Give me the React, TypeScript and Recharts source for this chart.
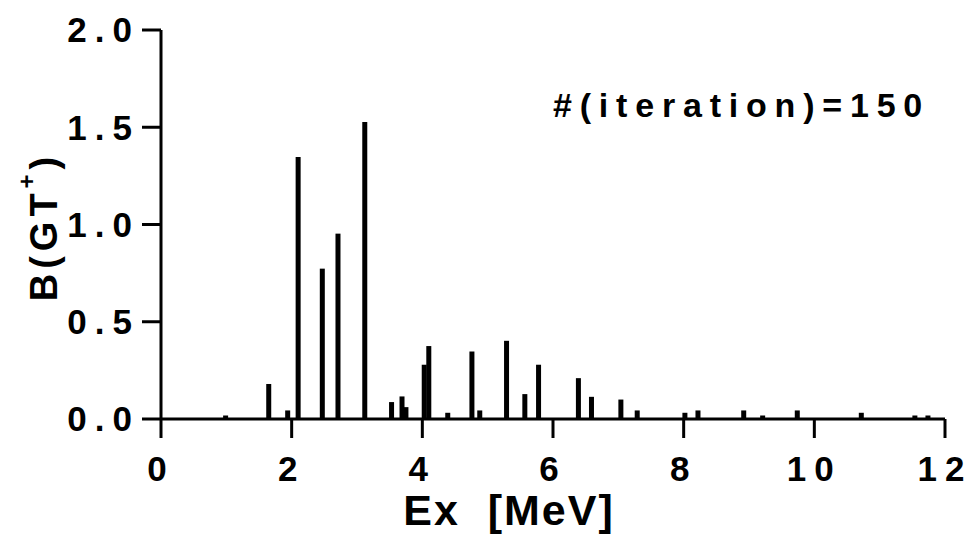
import React from 'react';
import { ComposedChart, Bar, XAxis, YAxis, Label } from 'recharts';

const energies = [0.99, 1.65, 1.94, 2.10, 2.47, 2.71, 3.12, 3.53, 3.69, 3.75, 4.03, 4.10, 4.39, 4.76, 4.88, 5.29, 5.57, 5.78, 6.39, 6.59, 7.04, 7.29, 8.02, 8.22, 8.92, 9.21, 9.74, 10.72, 11.54, 11.74];
const strengths = [0.018, 0.18, 0.044, 1.347, 0.773, 0.953, 1.527, 0.087, 0.116, 0.061, 0.279, 0.375, 0.032, 0.347, 0.044, 0.402, 0.128, 0.279, 0.21, 0.114, 0.1, 0.044, 0.032, 0.044, 0.044, 0.018, 0.044, 0.032, 0.018, 0.018];
const xTicks = [0, 2, 4, 6, 8, 10, 12];
const yTicks = [0, 0.5, 1.0, 1.5, 2.0];
const titleText = '#(iteration)=150';
const xLabelText = 'Ex  [MeV]';

const data = energies.map((ex, i) => ({ ex, b: strengths[i] }));

const FONT = '"Liberation Sans", Arial, sans-serif';

const BarShape = (props: any) => {
  const { x, y, width, height } = props;
  const cx = x + width / 2;
  return <rect x={cx - 2.5} y={y} width={5} height={height} fill="#000" />;
};

const tickStyle = { fontFamily: FONT, fontSize: 35, fontWeight: 700, fill: '#000', letterSpacing: 8 };

export default function App() {
  return (
    <div style={{ position: 'absolute', left: 0, top: 0, width: 974, height: 557, background: '#fff' }}>
      <ComposedChart width={974} height={557} data={data} margin={{ top: 30, right: 29, left: 0, bottom: 0 }}>
        <XAxis
          dataKey="ex"
          type="number"
          domain={[0, 12]}
          ticks={xTicks}
          allowDataOverflow
          height={138}
          tickSize={19}
          tickMargin={18}
          axisLine={{ stroke: '#000', strokeWidth: 3 }}
          tickLine={{ stroke: '#000', strokeWidth: 3 }}
          tick={tickStyle}
          interval={0}
        >
          <Label
            content={(p: any) => {
              const vb = p.viewBox;
              return (
                <text x={vb.x + vb.width / 2 - 44} y={525} textAnchor="middle" fontFamily={FONT} fontSize={43} fontWeight={700} letterSpacing={2} fill="#000" style={{ whiteSpace: 'pre' }}>
                  {xLabelText}
                </text>
              );
            }}
          />
        </XAxis>
        <YAxis
          type="number"
          domain={[0, 2]}
          ticks={yTicks}
          width={161}
          tickSize={19}
          tickMargin={2}
          axisLine={{ stroke: '#000', strokeWidth: 3 }}
          tickLine={{ stroke: '#000', strokeWidth: 3 }}
          tick={tickStyle}
          tickFormatter={(v: number) => v.toFixed(1)}
          interval={0}
        >
          <Label
            content={(p: any) => {
              const vb = p.viewBox;
              const cx = 57;
              const cy = vb.y + vb.height / 2 + 2;
              return (
                <text transform={`rotate(-90, ${cx}, ${cy})`} x={cx} y={cy} textAnchor="middle" fontFamily={FONT} fontSize={38} fontWeight={700} letterSpacing={5} fill="#000">
                  B(GT<tspan baselineShift={22} fontSize={24}>+</tspan>)
                </text>
              );
            }}
          />
        </YAxis>
        <Bar dataKey="b" fill="#000" shape={BarShape} isAnimationActive={false} />
      </ComposedChart>
      <div style={{ position: 'absolute', left: 553, top: 88, fontFamily: FONT, fontSize: 34, fontWeight: 700, letterSpacing: 7.8, lineHeight: '34px', whiteSpace: 'nowrap', color: '#000' }}>
        {titleText}
      </div>
    </div>
  );
}
